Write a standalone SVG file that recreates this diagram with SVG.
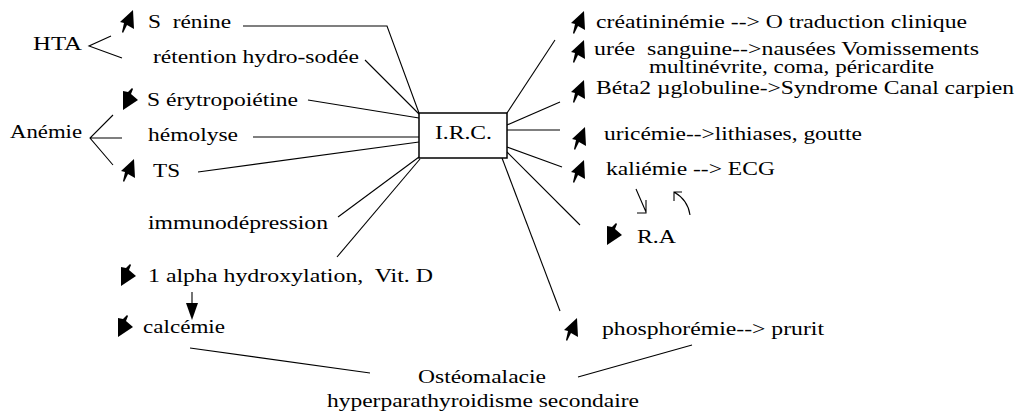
<svg xmlns="http://www.w3.org/2000/svg" width="1029" height="419" viewBox="0 0 1029 419">
<style>
text{font-family:"Liberation Serif","Times New Roman",serif;font-size:18px;fill:#000;white-space:pre}
.c{stroke:#000;stroke-width:1.1;fill:none}
.box{stroke:#000;stroke-width:1.5;fill:#fff}
</style>
<defs>
<path id="up" d="M13,0 L14,19 L7,15 L3,23 L2,22 L4,13 L0,12 Z" fill="#000"/>
<path id="dn" d="M1,3 L6,4 L10,0 L11,1 L9,6 L16,12 L1,22 Z" fill="#000"/>
</defs>
<rect width="1029" height="419" fill="#fff"/>
<g id="connectors">
<path class="c" d="M111,36 L89,46 L122,58"/>
<path class="c" d="M113,115 L90,138 L113,165 M90,138 L122,138"/>
<path class="c" d="M243,26 L387,26 L419,113"/>
<path class="c" d="M365,60 L419,114"/>
<path class="c" d="M308,100 L419,118"/>
<path class="c" d="M253,137 L419,137"/>
<path class="c" d="M198,172 L419,142"/>
<path class="c" d="M338,217 L419,157"/>
<path class="c" d="M337,257 L420,159"/>
<path class="c" d="M507,113 L555,40"/>
<path class="c" d="M507,125 L560,102"/>
<path class="c" d="M507,130 L560,130"/>
<path class="c" d="M507,147 L562,167"/>
<path class="c" d="M507,152 L580,225"/>
<path class="c" d="M502,158 L560,311"/>
<path class="c" d="M190,348 L370,373"/>
<path class="c" d="M578,377 L692,345"/>
<path class="c" d="M192,292 L192,306" stroke-width="2"/>
<path d="M186,303 L198,303 L192,320 Z" fill="#000"/>
<path class="c" d="M636,189 L646,212 M646,200 L646,213 L637,213"/>
<path class="c" d="M690,215 Q688,200 674,192 M674,201 L674,192 L682,192"/>
</g>
<g id="hta"><text x="33" y="50" textLength="49" lengthAdjust="spacingAndGlyphs">HTA</text></g>
<g id="anemie"><text x="10" y="138" textLength="72" lengthAdjust="spacingAndGlyphs">Anémie</text></g>
<g id="renine"><use href="#up" x="120" y="10"/><text x="148" y="28" textLength="83" lengthAdjust="spacingAndGlyphs">S  rénine</text></g>
<g id="retention"><text x="153" y="63" textLength="206" lengthAdjust="spacingAndGlyphs">rétention hydro-sodée</text></g>
<g id="erytro"><use href="#dn" x="122" y="88"/><text x="147" y="106" textLength="151" lengthAdjust="spacingAndGlyphs">S érytropoiétine</text></g>
<g id="hemolyse"><text x="148" y="141" textLength="90" lengthAdjust="spacingAndGlyphs">hémolyse</text></g>
<g id="ts"><use href="#up" x="121" y="159"/><text x="153" y="177" textLength="27" lengthAdjust="spacingAndGlyphs">TS</text></g>
<g id="immuno"><text x="148" y="229" textLength="180" lengthAdjust="spacingAndGlyphs">immunodépression</text></g>
<g id="alpha"><use href="#dn" x="120" y="264"/><text x="148" y="282" textLength="285" lengthAdjust="spacingAndGlyphs">1 alpha hydroxylation,  Vit. D</text></g>
<g id="calcemie"><use href="#dn" x="117" y="315"/><text x="143" y="333" textLength="82" lengthAdjust="spacingAndGlyphs">calcémie</text></g>
<g id="irc"><rect class="box" x="419" y="113" width="88" height="45"/><text x="435" y="139" textLength="57" lengthAdjust="spacingAndGlyphs">I.R.C.</text></g>
<g id="creat"><use href="#up" x="571" y="11"/><text x="596" y="28" textLength="371" lengthAdjust="spacingAndGlyphs">créatininémie --&gt; O traduction clinique</text></g>
<g id="uree"><use href="#up" x="571" y="40"/><text x="594" y="55" textLength="385" lengthAdjust="spacingAndGlyphs">urée  sanguine--&gt;nausées Vomissements</text><text x="649" y="73" textLength="285" lengthAdjust="spacingAndGlyphs">multinévrite, coma, péricardite</text></g>
<g id="beta2"><use href="#up" x="571" y="80"/><text x="596" y="94" textLength="418" lengthAdjust="spacingAndGlyphs">Béta2 µglobuline-&gt;Syndrome Canal carpien</text></g>
<g id="uricemie"><use href="#up" x="572" y="127"/><text x="604" y="140" textLength="258" lengthAdjust="spacingAndGlyphs">uricémie--&gt;lithiases, goutte</text></g>
<g id="kaliemie"><use href="#up" x="571" y="160"/><text x="606" y="175" textLength="169" lengthAdjust="spacingAndGlyphs">kaliémie --&gt; ECG</text></g>
<g id="ra"><use href="#dn" x="606" y="223"/><text x="637" y="243" textLength="39" lengthAdjust="spacingAndGlyphs">R.A</text></g>
<g id="phospho"><use href="#up" x="564" y="318"/><text x="602" y="335" textLength="222" lengthAdjust="spacingAndGlyphs">phosphorémie--&gt; prurit</text></g>
<g id="osteo"><text x="418" y="383" textLength="128" lengthAdjust="spacingAndGlyphs">Ostéomalacie</text><text x="327" y="407" textLength="312" lengthAdjust="spacingAndGlyphs">hyperparathyroidisme secondaire</text></g>
</svg>
